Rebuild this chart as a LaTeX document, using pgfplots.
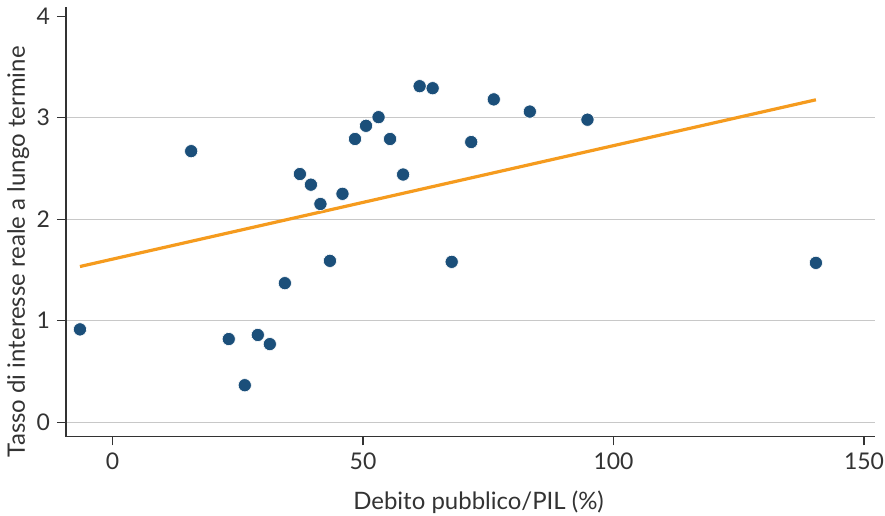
\documentclass[border=0pt]{standalone}
\usepackage{pgfplots}
\pgfplotsset{compat=1.18}
\usepackage{fontspec}
\setmainfont{Lato}
\definecolor{dotblue}{HTML}{1B4F7A}
\definecolor{fitorange}{HTML}{F59B1E}
\definecolor{gridgray}{HTML}{C8C8C8}
\definecolor{axisgray}{HTML}{333333}
\begin{document}
\begin{tikzpicture}
\begin{axis}[
  scale only axis,
  width=405pt, height=215pt,
  xmin=-9.3, xmax=152.2,
  ymin=-0.14, ymax=4.09,
  axis lines*=left,
  axis line style={axisgray, line width=0.7pt},
  xtick={0,50,100,150},
  ytick={0,1,2,3},
  extra y ticks={4},
  extra y tick style={grid=none},
  ymajorgrids,
  grid style={gridgray, line width=0.6pt},
  tick style={axisgray, line width=0.6pt},
  tick align=outside,
  major tick length=4.5pt,
  tick label style={font=\fontsize{11.5}{14}\selectfont, text=axisgray},
  /pgf/number format/assume math mode=true,
  xlabel={Debito pubblico/PIL (\%)},
  ylabel={Tasso di interesse reale a lungo termine},
  label style={font=\fontsize{12}{14}\selectfont, text=axisgray},
  xlabel style={at={(axis description cs:0.51,0)}, anchor=center, yshift=-33pt},
  ylabel style={at={(axis description cs:-0.059,0.43)}, anchor=center},
  clip=false,
]
\addplot[color=fitorange, line width=1.6pt] coordinates {(-6.5,1.534) (140.4,3.176)};
\addplot[only marks, mark=*, mark size=3.3pt, mark options={fill=dotblue, draw=white, line width=0.3pt}] coordinates {
(-6.5,0.915) (15.7,2.67) (23.2,0.82) (26.4,0.365) (29.0,0.86) (31.4,0.77) (34.4,1.37)
(37.4,2.445) (39.6,2.34) (41.5,2.15) (43.4,1.59) (45.9,2.25) (48.4,2.79) (50.6,2.92)
(53.1,3.005) (55.4,2.79) (58.0,2.44) (61.3,3.31) (63.9,3.29) (67.7,1.58) (71.6,2.76)
(76.1,3.18) (83.3,3.06) (94.8,2.98) (140.4,1.57)
};
\end{axis}
\pgfresetboundingbox
\path ([xshift=-33pt,yshift=-39.5pt]current axis.south west) rectangle ([xshift=5pt,yshift=3.5pt]current axis.north east);
\end{tikzpicture}
\end{document}
